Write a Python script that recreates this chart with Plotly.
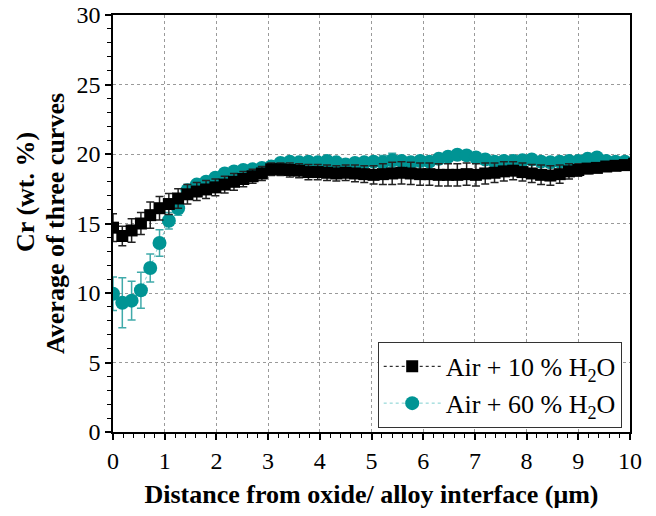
import plotly.graph_objects as go

# Distance from oxide/alloy interface (µm)
distance = [0.00, 0.18, 0.36, 0.54, 0.72, 0.90, 1.08, 1.26, 1.44, 1.62,
            1.80, 1.98, 2.16, 2.34, 2.52, 2.70, 2.88, 3.06, 3.24, 3.42,
            3.60, 3.78, 3.96, 4.14, 4.32, 4.50, 4.68, 4.86, 5.04, 5.22,
            5.40, 5.58, 5.76, 5.94, 6.12, 6.30, 6.48, 6.66, 6.84, 7.02,
            7.20, 7.38, 7.56, 7.74, 7.92, 8.10, 8.28, 8.46, 8.64, 8.82,
            9.00, 9.18, 9.36, 9.54, 9.72, 9.90, 10.08]

# Air + 10 % H2O
cr_10 = [14.7, 14.1, 14.5, 15.0, 15.6, 16.1, 16.4, 16.8, 17.1, 17.3,
         17.45, 17.6, 17.8, 18.0, 18.2, 18.4, 18.6, 18.9, 18.9, 18.85,
         18.8, 18.7, 18.7, 18.65, 18.6, 18.65, 18.6, 18.55, 18.5, 18.55,
         18.6, 18.65, 18.6, 18.55, 18.55, 18.5, 18.5, 18.5, 18.55, 18.5,
         18.6, 18.65, 18.75, 18.8, 18.7, 18.6, 18.5, 18.45, 18.55, 18.75,
         18.85, 18.95, 19.0, 19.1, 19.15, 19.2, 19.3]
err_10 = [1.0, 0.7, 0.85, 0.8, 0.95, 0.85, 0.75, 0.7, 0.7, 0.65,
          0.65, 0.6, 0.6, 0.6, 0.55, 0.5, 0.5, 0.45, 0.45, 0.5,
          0.5, 0.55, 0.55, 0.55, 0.55, 0.55, 0.6, 0.6, 0.65, 0.75,
          0.8, 0.8, 0.8, 0.8, 0.8, 0.8, 0.8, 0.8, 0.8, 0.8,
          0.75, 0.7, 0.7, 0.65, 0.65, 0.65, 0.7, 0.7, 0.65, 0.55,
          0.45, 0.35, 0.3, 0.3, 0.3, 0.3, 0.3]

# Air + 60 % H2O
cr_60 = [9.95, 9.3, 9.45, 10.2, 11.8, 13.6, 15.2, 16.1, 17.4, 17.8,
         18.0, 18.3, 18.6, 18.75, 18.85, 18.9, 19.0, 19.1, 19.35, 19.45,
         19.4, 19.45, 19.4, 19.5, 19.4, 19.25, 19.35, 19.4, 19.45, 19.4,
         19.55, 19.5, 19.4, 19.5, 19.45, 19.65, 19.8, 19.95, 19.9, 19.75,
         19.6, 19.45, 19.5, 19.5, 19.55, 19.6, 19.45, 19.4, 19.45, 19.5,
         19.5, 19.65, 19.75, 19.5, 19.45, 19.45, 19.35]
err_60 = [1.2, 1.8, 1.4, 1.3, 1.0, 0.95, 0.6, 0.5, 0.4, 0.35,
          0.3, 0.3, 0.3, 0.3, 0.3, 0.3, 0.3, 0.3, 0.3, 0.3,
          0.3, 0.3, 0.3, 0.3, 0.3, 0.3, 0.3, 0.3, 0.3, 0.5,
          0.5, 0.3, 0.3, 0.3, 0.3, 0.3, 0.3, 0.3, 0.3, 0.3,
          0.3, 0.3, 0.3, 0.3, 0.3, 0.3, 0.3, 0.3, 0.3, 0.3,
          0.3, 0.3, 0.3, 0.3, 0.3, 0.3, 0.3]

x_ticks = [0, 1, 2, 3, 4, 5, 6, 7, 8, 9, 10]
y_ticks = [0, 5, 10, 15, 20, 25, 30]

FONT = "Liberation Serif, Times New Roman, serif"
TEAL = "#009494"

fig = go.Figure()
fig.add_trace(go.Scatter(
    x=distance, y=cr_60, mode="lines+markers",
    name="Air + 60 % H<sub>2</sub>O", legendgroup="g60", legendrank=2,
    line=dict(color="#7fd0d0", width=1, dash="dot"),
    marker=dict(symbol="circle", size=14, color=TEAL),
    error_y=dict(type="data", array=err_60, color="#40aaaa", thickness=1.5, width=4),
))
fig.add_trace(go.Scatter(
    x=distance, y=cr_10, mode="lines+markers",
    name="Air + 10 % H<sub>2</sub>O", legendgroup="g10", legendrank=1,
    line=dict(color="black", width=1, dash="dot"),
    marker=dict(symbol="square", size=12, color="black"),
    error_y=dict(type="data", array=err_10, color="#222222", thickness=1.5, width=4),
))

axis_common = dict(
    showline=True, linecolor="black", linewidth=1.5, mirror=True,
    ticks="outside", ticklen=6, tickwidth=1.5, tickcolor="black",
    showgrid=True, gridcolor="#9a9a9a", gridwidth=1, griddash="3px,3px",
    zeroline=False, automargin=False, ticklabeloverflow="allow",
    tickfont=dict(family=FONT, size=24, color="black"),
)

fig.update_xaxes(
    range=[0, 10], tickvals=x_ticks, ticktext=[str(v) for v in x_ticks],
    minor=dict(dtick=0.2, ticks="outside", ticklen=4, tickwidth=1, tickcolor="black", showgrid=False),
    title=dict(text="Distance from oxide/ alloy interface (μm)",
               font=dict(family=FONT, size=26, color="black", weight="bold"), standoff=12),
    **axis_common,
)
fig.update_yaxes(
    range=[0, 30], tickvals=y_ticks, ticktext=[str(v) for v in y_ticks],
    minor=dict(dtick=1, ticks="outside", ticklen=4, tickwidth=1, tickcolor="black", showgrid=False),
    **axis_common,
)

fig.add_annotation(text="Cr (wt. %)", xref="paper", yref="paper", x=-0.168, y=0.576,
                   xanchor="center", yanchor="middle",
                   textangle=-90, showarrow=False,
                   font=dict(family=FONT, size=26, color="black", weight="bold"))
fig.add_annotation(text="Average of three curves", xref="paper", yref="paper", x=-0.11, y=0.499,
                   xanchor="center", yanchor="middle",
                   textangle=-90, showarrow=False,
                   font=dict(family=FONT, size=26, color="black", weight="bold"))

fig.update_layout(
    width=656, height=516,
    margin=dict(l=105, r=34, t=7, b=92),
    paper_bgcolor="white", plot_bgcolor="white",
    showlegend=True,
    legend=dict(x=0.512, y=0.216, xanchor="left", yanchor="top",
                traceorder="normal", tracegroupgap=5, itemwidth=57,
                bgcolor="white", bordercolor="#333333", borderwidth=1,
                font=dict(family=FONT, size=26, color="black")),
)

fig.write_html("out.html")
